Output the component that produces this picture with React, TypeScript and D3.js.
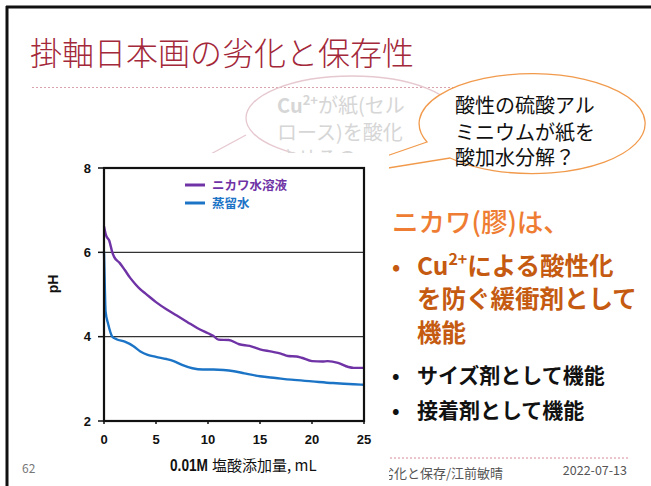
import React from "react";
import * as d3 from "d3";

// titration curves
const nikawaX = [0, 0.2, 0.5, 0.8, 1, 1.5, 2, 2.5, 3, 3.5, 4, 5, 6, 7, 8, 9, 10, 10.5, 11, 12, 13, 14, 15, 16, 17, 17.7, 18.5, 19, 20, 21, 21.5, 22.5, 23.5, 24, 25];
const nikawaPH = [6.62, 6.4, 6.28, 6.0, 5.88, 5.75, 5.58, 5.4, 5.25, 5.12, 5.02, 4.82, 4.65, 4.5, 4.35, 4.2, 4.08, 4.02, 3.93, 3.92, 3.82, 3.78, 3.7, 3.65, 3.6, 3.54, 3.53, 3.5, 3.42, 3.41, 3.42, 3.38, 3.28, 3.26, 3.26];
const waterX = [0, 0.05, 0.15, 0.4, 0.8, 1.2, 2, 2.8, 3.5, 4.2, 5, 6, 6.7, 7.5, 8.5, 9.5, 10.5, 11.5, 12.5, 13.5, 15, 16.5, 18, 20, 22, 24, 25];
const waterPH = [6.02, 5.5, 4.6, 4.3, 4.0, 3.94, 3.88, 3.78, 3.65, 3.57, 3.52, 3.47, 3.42, 3.33, 3.25, 3.22, 3.22, 3.21, 3.18, 3.13, 3.06, 3.02, 2.98, 2.94, 2.9, 2.87, 2.86];

const seriesNames = ["ニカワ水溶液", "蒸留水"];
const seriesColors = ["#6f33a6", "#1c74c6"];
const xTicks = [0, 5, 10, 15, 20, 25];
const yTicks = [2, 4, 6, 8];
const gridValues = [4, 6];

const jp = '"Noto Sans CJK JP", "Noto Sans", sans-serif';
const num = '"Liberation Sans Narrow", "Liberation Sans", Arial, sans-serif';

export default function App() {
  const x = d3.scaleLinear().domain([0, 25]).range([104, 364]);
  const y = d3.scaleLinear().domain([2, 8]).range([421, 168]);

  const line = d3
    .line<[number, number]>()
    .x((d) => x(d[0]))
    .y((d) => y(d[1]))
    .curve(d3.curveMonotoneX);

  const series = [
    nikawaX.map((v, i) => [v, nikawaPH[i]] as [number, number]),
    waterX.map((v, i) => [v, waterPH[i]] as [number, number]),
  ];

  return (
    <svg
      width={651}
      height={486}
      style={{ position: "absolute", left: 0, top: 0, background: "#fff" }}
    >
      <defs>
        <clipPath id="fadedClip">
          <rect x={200} y={60} width={230} height={95} />
        </clipPath>
      </defs>
      <rect x={0} y={0} width={651} height={486} fill="#fff" />
      {/* slide frame */}
      <line x1={6} y1={7} x2={651} y2={7} stroke="#111" strokeWidth={3} />
      <line x1={7} y1={6} x2={7} y2={486} stroke="#111" strokeWidth={3} />

      {/* title */}
      <text x={30} y={65} fontFamily={jp} fontSize={32} fontWeight={300} fill="#a3283a">
        掛軸日本画の劣化と保存性
      </text>
      <line x1={32} y1={87.5} x2={505} y2={87.5} stroke="#d9a3ae" strokeWidth={1} strokeDasharray="2,2" />

      {/* faded bubble behind */}
      <g opacity={0.9}>
        <ellipse cx={352} cy={118} rx={106} ry={42} fill="none" stroke="#e4c3cb" strokeWidth={1.3} />
        <line x1={246} y1={135} x2={196} y2={162} stroke="#e4c3cb" strokeWidth={1.3} />
        <g fontFamily={jp} fontSize={20} fill="#d2d2d2" clipPath="url(#fadedClip)">
          <text x={277} y={113}>
            <tspan fontWeight={700}>Cu</tspan>
            <tspan fontSize={13} dy={-8} fontWeight={700}>2+</tspan>
            <tspan dy={8}>が紙(セル</tspan>
          </text>
          <text x={277} y={140}>ロース)を酸化</text>
          <text x={277} y={166}>させるの</text>
        </g>
      </g>

      {/* orange bubble */}
      <path
        d="M427,142 L320,179 L450,158 A113,50 0 1 0 427,142 Z"
        fill="#fff"
        stroke="#f19a4c"
        strokeWidth={1.3}
      />
      <g fontFamily={jp} fontSize={20} fill="#111">
        <text x={455} y={113}>酸性の硫酸アル</text>
        <text x={455} y={140}>ミニウムが紙を</text>
        <text x={455} y={165}>酸加水分解？</text>
      </g>

      {/* footer */}
      <line x1={390} y1={458} x2={628} y2={458} stroke="#d98a9a" strokeWidth={1} strokeDasharray="2,2" />
      <text x={503} y={478} textAnchor="end" fontFamily={jp} fontSize={13} fill="#555">
        掛軸日本画の劣化と保存/江前敏晴
      </text>
      <text x={627} y={475} textAnchor="end" fontFamily={jp} fontSize={12.5} fill="#555">
        2022-07-13
      </text>
      <text x={22} y={473} fontFamily={jp} fontSize={12} fill="#777">
        62
      </text>

      {/* chart image background */}
      <rect x={40} y={153} width={349} height={333} fill="#fff" />

      {/* grid */}
      {gridValues.map((v) => (
        <line key={v} x1={x(0)} x2={x(25)} y1={y(v)} y2={y(v)} stroke="#333" strokeWidth={1.3} />
      ))}

      {/* series */}
      {series.map((s, i) => (
        <path
          key={i}
          d={line(s) ?? ""}
          fill="none"
          stroke={seriesColors[i]}
          strokeWidth={2.4}
          strokeLinejoin="round"
        />
      ))}

      {/* frame */}
      <rect x={x(0)} y={y(8)} width={x(25) - x(0)} height={y(2) - y(8)} fill="none" stroke="#111" strokeWidth={2.2} />

      {/* y axis */}
      {yTicks.map((v) => (
        <g key={v}>
          <line x1={x(0) - 6} x2={x(0)} y1={y(v)} y2={y(v)} stroke="#111" strokeWidth={1.5} />
          <text x={91} y={y(v) + 4.5} textAnchor="end" fontFamily={num} fontWeight={700} fontSize={13} fill="#111">
            {v}
          </text>
        </g>
      ))}
      {/* x axis */}
      {xTicks.map((v) => (
        <g key={v}>
          <line x1={x(v)} x2={x(v)} y1={y(2)} y2={y(2) + 3} stroke="#111" strokeWidth={1.5} />
          <text x={x(v)} y={444} textAnchor="middle" fontFamily={num} fontWeight={700} fontSize={13} fill="#111">
            {v}
          </text>
        </g>
      ))}

      <text
        transform="translate(58,284) rotate(-90)"
        textAnchor="middle"
        fontFamily={num}
        fontWeight={700}
        fontSize={14}
        fill="#111"
      >
        pH
      </text>
      <text x={170} y={471} fontFamily={num} fontWeight={700} fontSize={16} fill="#111" textLength={38} lengthAdjust="spacingAndGlyphs">
        0.01M
      </text>
      <text x={212} y={471} fontFamily={jp} fontSize={15} fill="#111">
        塩酸添加量, mL
      </text>

      {/* legend */}
      {seriesNames.map((name, i) => (
        <g key={name}>
          <line x1={185} x2={205} y1={185 + i * 18} y2={185 + i * 18} stroke={seriesColors[i]} strokeWidth={3} />
          <text x={212} y={189.5 + i * 18} fontFamily={jp} fontWeight={700} fontSize={12.5} fill={seriesColors[i]}>
            {name}
          </text>
        </g>
      ))}

      {/* right-hand text */}
      <text x={392} y={232} fontFamily={jp} fontSize={26.5} fontWeight={500} fill="#ee7d33">
        ニカワ(膠)は、
      </text>
      <g fontFamily={jp} fontWeight={700} fill="#c55a11">
        <text x={392} y={275} fontSize={22}>•</text>
        <text x={417} y={275} fontSize={24.5}>
          <tspan>Cu</tspan>
          <tspan fontSize={16} dy={-10}>2+</tspan>
          <tspan dy={10}>による酸性化</tspan>
        </text>
        <text x={417} y={308} fontSize={24.5}>を防ぐ緩衝剤として</text>
        <text x={417} y={342} fontSize={24.5}>機能</text>
      </g>
      <g fontFamily={jp} fontWeight={700} fill="#111">
        <text x={392} y={383} fontSize={20}>•</text>
        <text x={417} y={383} fontSize={21}>サイズ剤として機能</text>
        <text x={392} y={418} fontSize={20}>•</text>
        <text x={417} y={418} fontSize={21}>接着剤として機能</text>
      </g>
    </svg>
  );
}
